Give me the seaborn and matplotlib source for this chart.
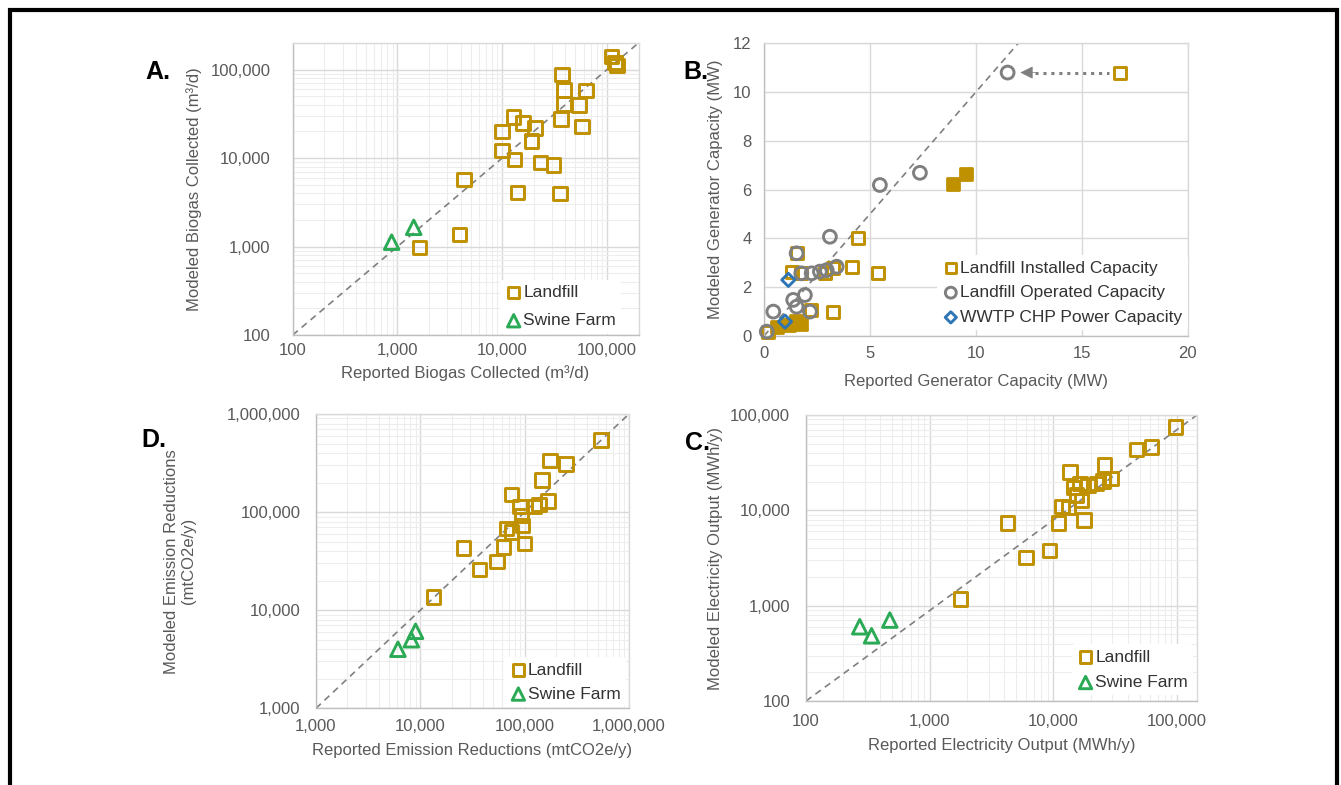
import matplotlib
matplotlib.use("Agg")
import matplotlib.pyplot as plt
import seaborn as sns
from matplotlib.ticker import FuncFormatter, LogLocator, MultipleLocator, NullFormatter
from matplotlib.patches import Rectangle

sns.set_style("white")
plt.rcParams["font.family"] = ["Liberation Sans", "DejaVu Sans"]

GOLD = "#BF9000"
GREEN = "#2AAA55"
GRAY = "#7F7F7F"
BLUE = "#2E75B6"
TXT = "#595959"

# A. biogas collected (m3/d)
a_landfill_rep = [110000, 120000, 125000, 37000, 39000, 63000, 39000, 54000, 36500, 58000,
                  12800, 15700, 20500, 10000, 19100, 10000, 13100, 23200, 30900, 4300,
                  14000, 35700, 3900, 1620]
a_landfill_mod = [140000, 120000, 112000, 88000, 59000, 58000, 41000, 40000, 27600, 22800,
                  29000, 25000, 22000, 20000, 15500, 12200, 9600, 8900, 8400, 5700,
                  4100, 4000, 1360, 980]
a_swine_rep = [880, 1430]
a_swine_mod = [1120, 1650]

# B. generator capacity (MW)
b_inst_rep = [16.8, 4.45, 4.14, 5.4, 3.27, 1.54, 1.3, 1.76, 2.88, 3.27, 2.2, 0.2]
b_inst_mod = [10.8, 4.0, 2.84, 2.57, 1.0, 3.39, 2.64, 2.57, 2.57, 2.77, 1.07, 0.18]
b_inst_fill_rep = [8.93, 9.53, 1.2, 1.5, 1.75, 0.6]
b_inst_fill_mod = [6.23, 6.64, 0.45, 0.6, 0.5, 0.38]
b_oper_rep = [11.5, 7.36, 5.47, 3.11, 3.43, 2.96, 2.64, 2.25, 1.76, 1.54, 1.93, 1.38,
              1.54, 2.17, 0.44, 0.13]
b_oper_mod = [10.8, 6.69, 6.19, 4.07, 2.84, 2.7, 2.64, 2.57, 2.57, 3.39, 1.68, 1.48,
              1.2, 1.0, 1.0, 0.18]
b_wwtp_rep = [1.15, 0.99]
b_wwtp_mod = [2.3, 0.59]

# D. emission reductions (mtCO2e/y)
d_landfill_rep = [537000, 175000, 250000, 147000, 167000, 137000, 124000, 75000, 90000,
                  93000, 95000, 67000, 75000, 63000, 100000, 26000, 54000, 37000, 13400]
d_landfill_mod = [545000, 335000, 310000, 213000, 129000, 120000, 114000, 151000, 114000,
                  92500, 73000, 68000, 63000, 44000, 47600, 43000, 31500, 26000, 13700]
d_swine_rep = [6100, 8200, 9000]
d_swine_mod = [4000, 5000, 6100]

# C. electricity output (MWh/y)
c_landfill_rep = [97000, 62000, 47000, 26000, 13600, 29500, 25300, 22300, 19100, 16400,
                  14500, 15400, 16900, 11700, 13200, 11000, 17700, 4260, 9300, 6000, 1770]
c_landfill_mod = [75000, 46000, 43500, 29800, 25300, 21500, 20400, 19100, 18300, 19100,
                  17300, 14400, 12700, 11000, 10700, 7400, 7900, 7400, 3800, 3200, 1170]
c_swine_rep = [272, 339, 476]
c_swine_mod = [601, 483, 706]

W, H = 1341, 785
fig = plt.figure(figsize=(W / 100, H / 100), dpi=100)


def px_axes(left, top, right, bottom):
    return fig.add_axes([left / W, 1 - bottom / H, (right - left) / W, (bottom - top) / H])


comma = FuncFormatter(lambda v, p: f"{v:,.0f}")


def style_axes(ax, log, ypad, xpad):
    for side, sp in ax.spines.items():
        sp.set_color("#BFBFBF" if side in ("left", "bottom") else "#D9D9D9")
        sp.set_linewidth(1.0)
    if log:
        ax.set_xscale("log")
        ax.set_yscale("log")
        for axis in (ax.xaxis, ax.yaxis):
            axis.set_major_locator(LogLocator(base=10, numticks=10))
            axis.set_minor_locator(LogLocator(base=10, subs=range(2, 10), numticks=20))
            axis.set_major_formatter(comma)
            axis.set_minor_formatter(NullFormatter())
        ax.grid(True, which="minor", color="#EDEDED", lw=0.8, zorder=0)
    ax.grid(True, which="major", color="#D9D9D9", lw=1.0, zorder=0)
    ax.set_axisbelow(True)
    ax.tick_params(which="both", length=0, labelsize=12, labelcolor=TXT)
    ax.tick_params(axis="y", pad=ypad)
    ax.tick_params(axis="x", pad=xpad)


def hollow(ax, x, y, marker, color, s, label=None, lw=2.1):
    sns.scatterplot(x=x, y=y, ax=ax, marker=marker, s=s, facecolor="none",
                    edgecolor=color, linewidth=lw, label=label, zorder=3, clip_on=False)


def one_to_one(ax):
    ax.plot([0, 1], [0, 1], transform=ax.transAxes, ls=(0, (4, 3)), color="#808080",
            lw=1.2, zorder=2)


def add_legend(ax, anchor, spacing=0.6):
    leg = ax.legend(loc="lower right", bbox_to_anchor=anchor, frameon=True,
                    facecolor="white", edgecolor="none", framealpha=1, fontsize=12.5,
                    handletextpad=0.05, handlelength=1.0, borderpad=0.3,
                    labelspacing=spacing, markerscale=0.85, borderaxespad=0)
    for t in leg.get_texts():
        t.set_color("#333333")
    leg.set_zorder(5)


def label_axes(ax, xlabel, ylabel, xl_y, yl_x):
    ax.set_xlabel(xlabel, fontsize=12, color=TXT)
    ax.set_ylabel(ylabel, fontsize=12, color=TXT)
    ax.xaxis.set_label_coords(0.5, xl_y)
    ax.yaxis.set_label_coords(yl_x, 0.5)


# Panel A
axA = px_axes(292.7, 43, 638.5, 335)
style_axes(axA, True, ypad=16, xpad=6)
axA.set_xlim(100, 200000)
axA.set_ylim(100, 200000)
one_to_one(axA)
hollow(axA, a_landfill_rep, a_landfill_mod, "s", GOLD, 95, "Landfill")
hollow(axA, a_swine_rep, a_swine_mod, "^", GREEN, 110, "Swine Farm")
add_legend(axA, (0.95, 0.005), spacing=0.75)
label_axes(axA, "Reported Biogas Collected (m³/d)", "Modeled Biogas Collected (m³/d)",
           -0.103, -0.262)

# Panel B
axB = px_axes(764, 43.3, 1187.7, 336)
style_axes(axB, False, ypad=9, xpad=7)
axB.set_xlim(0, 20)
axB.set_ylim(0, 12)
axB.xaxis.set_major_locator(MultipleLocator(5))
axB.yaxis.set_major_locator(MultipleLocator(2))
axB.xaxis.set_minor_locator(MultipleLocator(1))
axB.yaxis.set_minor_locator(MultipleLocator(1))
axB.tick_params(which="minor", length=3, width=0.8, color="#BFBFBF", direction="out")
axB.plot([0, 12], [0, 12], ls=(0, (4, 3)), color="#808080", lw=1.2, zorder=2)
hollow(axB, b_inst_rep, b_inst_mod, "s", GOLD, 75, "Landfill Installed Capacity")
sns.scatterplot(x=b_inst_fill_rep, y=b_inst_fill_mod, ax=axB, marker="s", s=75,
                color=GOLD, edgecolor=GOLD, linewidth=2.0, zorder=3, clip_on=False)
hollow(axB, b_oper_rep, b_oper_mod, "o", GRAY, 85, "Landfill Operated Capacity")
hollow(axB, b_wwtp_rep, b_wwtp_mod, "D", BLUE, 45, "WWTP CHP Power Capacity")
# arrow from the installed value to the operated value of the same landfill
arrow_y = b_inst_mod[0]
axB.plot([b_oper_rep[0] + 1.3, b_inst_rep[0] - 0.5], [arrow_y, arrow_y], ls=(0, (1, 1.6)),
         color=GRAY, lw=2.2, zorder=2)
axB.annotate("", xy=(b_oper_rep[0] + 0.6, arrow_y), xytext=(b_oper_rep[0] + 1.4, arrow_y),
             arrowprops=dict(arrowstyle="-|>", color=GRAY, lw=0.5, mutation_scale=20,
                             shrinkA=0, shrinkB=0))
add_legend(axB, (1.0, 0.02), spacing=0.55)
label_axes(axB, "Reported Generator Capacity (MW)", "Modeled Generator Capacity (MW)",
           -0.13, -0.097)

# Panel D
axD = px_axes(316, 414, 629, 708.3)
style_axes(axD, True, ypad=11, xpad=8)
axD.set_xlim(1000, 1000000)
axD.set_ylim(1000, 1000000)
one_to_one(axD)
hollow(axD, d_landfill_rep, d_landfill_mod, "s", GOLD, 95, "Landfill")
hollow(axD, d_swine_rep, d_swine_mod, "^", GREEN, 110, "Swine Farm")
add_legend(axD, (0.99, 0.005), spacing=0.5)
label_axes(axD, "Reported Emission Reductions (mtCO2e/y)",
           "Modeled Emission Reductions\n(mtCO2e/y)", -0.118, -0.383)

# Panel C
axC = px_axes(806, 415, 1197, 701)
style_axes(axC, True, ypad=11.5, xpad=9)
axC.set_xlim(100, 145000)
axC.set_ylim(100, 100000)
one_to_one(axC)
hollow(axC, c_landfill_rep, c_landfill_mod, "s", GOLD, 95, "Landfill")
hollow(axC, c_swine_rep, c_swine_mod, "^", GREEN, 110, "Swine Farm")
add_legend(axC, (0.99, 0.02), spacing=0.6)
label_axes(axC, "Reported Electricity Output (MWh/y)", "Modeled Electricity Output (MWh/y)",
           -0.129, -0.212)

# panel letters
for letter, (x, y) in {"A.": (158, 72), "B.": (696, 72), "D.": (154, 440),
                       "C.": (697, 443)}.items():
    fig.text(x / W, 1 - y / H, letter, fontsize=18, fontweight="bold", color="black",
             ha="center", va="center")

# outer black frame (open at the bottom edge of the image)
fig.add_artist(Rectangle((9.5 / W, -0.05), (1337 - 9.5) / W, 1.05 - 10 / H,
                         transform=fig.transFigure, fill=False, lw=3, ec="black",
                         clip_on=False))

fig.savefig("out.png", dpi=100, facecolor="white")
